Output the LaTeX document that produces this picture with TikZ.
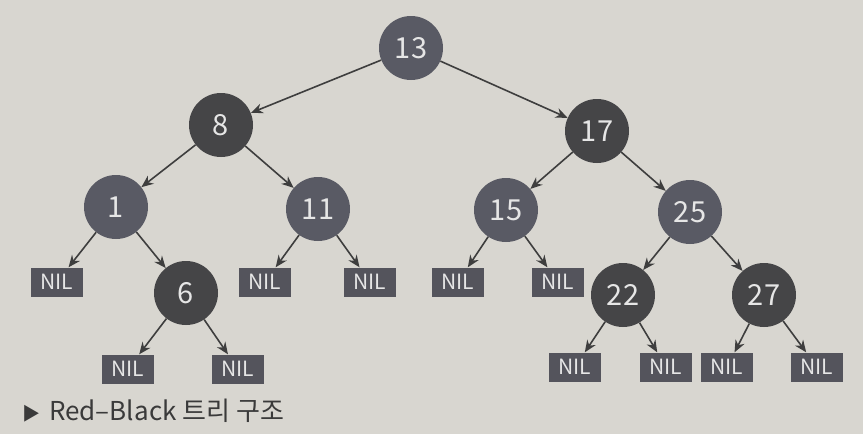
\documentclass[tikz,border=0pt]{standalone}
\usepackage{fontspec}
\setmainfont{Noto Sans CJK KR}
\usepackage{tikz}
\usetikzlibrary{arrows.meta}
\usepackage{xcolor}
\definecolor{paper}{HTML}{D8D6D0}
\definecolor{nodeblack}{HTML}{595A64}
\definecolor{nodered}{HTML}{454547}
\definecolor{nilgray}{HTML}{54545C}
\definecolor{numtext}{HTML}{E6E6E6}
\definecolor{linegray}{HTML}{3E3E3E}
\definecolor{captext}{HTML}{3A3A3A}

\begin{document}
\begin{tikzpicture}[x=1pt,y=-1pt,
  blk/.style={circle, fill=nodeblack, minimum size=64pt, inner sep=0pt,
    text=numtext, font=\fontsize{29}{29}\selectfont},
  rednode/.style={blk, fill=nodered},
  nil/.style={rectangle, fill=nilgray, minimum width=52pt, minimum height=29pt,
    inner sep=0pt, text=numtext, font=\fontsize{21}{21}\selectfont},
  link/.style={draw=linegray, line width=1.6pt, -{Stealth[length=12pt,width=10pt]}}]

%====================================================
% FONDO (papel)
%====================================================
\fill[paper] (0,0) rectangle (863,434);

%====================================================
% NODOS DEL ARBOL
%====================================================
\node[blk]     (n13) at (411,48)  {13};
\node[rednode] (n8)  at (221,125) {8};
\node[rednode] (n17) at (597,131) {17};
\node[blk]     (n1)  at (116,207) {1};
\node[blk]     (n11) at (318,209) {11};
\node[blk]     (n15) at (506,210) {15};
\node[blk]     (n25) at (690,212) {25};
\node[rednode] (n6)  at (186,293) {6};
\node[rednode] (n22) at (623,295) {22};
\node[rednode] (n27) at (764,295) {27};

% hojas NIL
\node[nil] (nilA) at (57,282)  {NIL};
\node[nil] (nilB) at (265,282) {NIL};
\node[nil] (nilC) at (370,282) {NIL};
\node[nil] (nilD) at (458,282) {NIL};
\node[nil] (nilE) at (558,282) {NIL};
\node[nil] (nilF) at (128,369) {NIL};
\node[nil] (nilG) at (238,369) {NIL};
\node[nil] (nilH) at (575,367) {NIL};
\node[nil] (nilI) at (666,367) {NIL};
\node[nil] (nilJ) at (727,367) {NIL};
\node[nil] (nilK) at (817,367) {NIL};

%====================================================
% ENLACES
%====================================================
\draw[link] (n13) -- (n8);
\draw[link] (n13) -- (n17);
\draw[link] (n8) -- (n1);
\draw[link] (n8) -- (n11);
\draw[link] (n17) -- (n15);
\draw[link] (n17) -- (n25);
\draw[link] (n1) -- (nilA);
\draw[link] (n1) -- (n6);
\draw[link] (n11) -- (nilB);
\draw[link] (n11) -- (nilC);
\draw[link] (n15) -- (nilD);
\draw[link] (n15) -- (nilE);
\draw[link] (n25) -- (n22);
\draw[link] (n25) -- (n27);
\draw[link] (n6) -- (nilF);
\draw[link] (n6) -- (nilG);
\draw[link] (n22) -- (nilH);
\draw[link] (n22) -- (nilI);
\draw[link] (n27) -- (nilJ);
\draw[link] (n27) -- (nilK);

% pie de figura
\node[anchor=west, text=captext, font=\fontsize{26}{26}\selectfont, inner sep=0pt]
  (caption) at (22,411) {{\fontsize{18}{18}\selectfont ▶}\hspace{9pt}Red–Black 트리 구조};
\end{tikzpicture}
\end{document}
